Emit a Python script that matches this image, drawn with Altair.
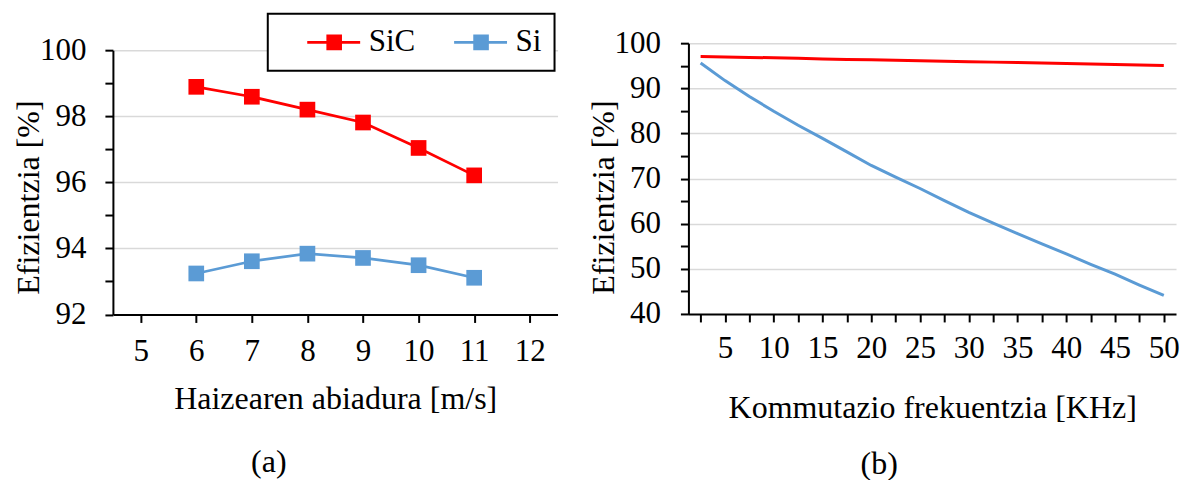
import altair as alt
import pandas as pd

FONT = "Liberation Serif"

# ---- data (a) ----
wind_speed = [6, 7, 8, 9, 10, 11]
eff_sic_a = [98.89, 98.59, 98.20, 97.81, 97.04, 96.21]
eff_si_a = [93.24, 93.61, 93.84, 93.71, 93.49, 93.11]

# ---- data (b) ----
freq_khz = [2.5, 5, 7.5, 10, 12.5, 15, 17.5, 20, 22.5, 25,
            27.5, 30, 32.5, 35, 37.5, 40, 42.5, 45, 47.5, 50]
eff_sic_b = [97.05, 96.95, 96.85, 96.75, 96.65, 96.5, 96.4, 96.3, 96.2, 96.1,
             96.0, 95.9, 95.8, 95.7, 95.6, 95.5, 95.4, 95.3, 95.15, 95.05]
eff_si_b = [95.6, 91.7, 88.2, 84.9, 81.8, 78.9, 75.9, 72.9, 70.3, 67.8,
            65.1, 62.5, 60.1, 57.8, 55.5, 53.3, 51.0, 48.8, 46.4, 44.1]

series_names = ["SiC", "Si"]
series_colors = ["#FF0000", "#5B9BD5"]

x_ticks_a = [5, 6, 7, 8, 9, 10, 11, 12]
y_ticks_a = [92, 93, 94, 95, 96, 97, 98, 99, 100]
x_ticks_b = [2.5, 5, 7.5, 10, 12.5, 15, 17.5, 20, 22.5, 25,
             27.5, 30, 32.5, 35, 37.5, 40, 42.5, 45, 47.5, 50]
y_ticks_b = [40, 45, 50, 55, 60, 65, 70, 75, 80, 85, 90, 95, 100]

df_a = pd.DataFrame({
    "x": wind_speed * 2,
    "eff": eff_sic_a + eff_si_a,
    "series": ["SiC"] * len(wind_speed) + ["Si"] * len(wind_speed),
})
df_b = pd.DataFrame({
    "x": freq_khz * 2,
    "eff": eff_sic_b + eff_si_b,
    "series": ["SiC"] * len(freq_khz) + ["Si"] * len(freq_khz),
})

color_scale = alt.Scale(domain=series_names, range=series_colors)

even_grid = {"condition": {"test": "datum.value % 2 == 0 && datum.value > 92", "value": "#D9D9D9"},
             "value": "transparent"}
ten_grid = {"condition": {"test": "datum.value % 10 == 0 && datum.value > 40", "value": "#D9D9D9"},
            "value": "transparent"}

# ---- panel (a) ----
xa = alt.X("x:Q", scale=alt.Scale(domain=[4.5, 12.5], nice=False, zero=False),
           axis=alt.Axis(values=x_ticks_a, format="d", grid=False, labelPadding=14,
                         title="Haizearen abiadura [m/s]", titleY=94,
                         titleBaseline="alphabetic"))
ya = alt.Y("eff:Q", scale=alt.Scale(domain=[92, 100], range=[271.5, 7], nice=False, zero=False),
           axis=alt.Axis(values=y_ticks_a, labelExpr="datum.value % 2 == 0 ? datum.label : ''",
                         gridColor=even_grid, labelPadding=19,
                         title="Efizientzia [%]", titleX=-67.5, titleY=154))

# line through a filled square; drawn to the right of the nominal symbol box
sym_path = "M0.846,-0.1H4.92V0.1H0.846Z M2.32,-0.604H3.52V0.604H2.32Z"

legend_a = alt.Legend(title=None, orient="none", legendX=155, legendY=-29.5,
                      direction="horizontal", symbolType=sym_path,
                      symbolSize=676, symbolStrokeWidth=0,
                      labelFont=FONT, labelFontSize=31, labelColor="black",
                      labelOffset=57, padding=13, strokeColor="black",
                      fillColor="white", columnPadding=12, labelLimit=400,
                      labelExpr="datum.label == 'Si' ? 'Si\u00a0\u00a0' : datum.label")

base_a = alt.Chart(df_a)
lines_a = base_a.mark_line(strokeWidth=2.75).encode(
    x=xa, y=ya, color=alt.Color("series:N", scale=color_scale, legend=legend_a))
points_a = base_a.mark_point(shape="square", filled=True, size=246, opacity=1).encode(
    x=xa, y=ya, color=alt.Color("series:N", scale=color_scale, legend=legend_a))

left = alt.layer(lines_a, points_a).properties(
    width=445, height=271.5,
    title=alt.TitleParams("(a)", orient="bottom", anchor="middle", dx=-66.5, offset=58,
                          baseline="alphabetic", font=FONT, fontSize=32,
                          fontWeight="normal", color="black"))

# ---- panel (b) ----
xb = alt.X("x:Q", scale=alt.Scale(domain=[1.25, 51.25], nice=False, zero=False),
           axis=alt.Axis(values=x_ticks_b, labelExpr="datum.value % 5 == 0 ? datum.label : ''",
                         grid=False, labelPadding=12,
                         title="Kommutazio frekuentzia [KHz]", titleY=104,
                         titleBaseline="alphabetic"))
yb = alt.Y("eff:Q", scale=alt.Scale(domain=[40, 100], nice=False, zero=False),
           axis=alt.Axis(values=y_ticks_b, labelExpr="datum.value % 10 == 0 ? datum.label : ''",
                         gridColor=ten_grid, labelPadding=20,
                         title="Efizientzia [%]", titleX=-67.5, titleY=154))

right = alt.Chart(df_b).mark_line(strokeWidth=3).encode(
    x=xb, y=yb, stroke=alt.Stroke("series:N", scale=color_scale, legend=None)
).properties(
    width=488, height=271,
    title=alt.TitleParams("(b)", orient="bottom", anchor="middle", dx=-53, offset=50,
                          baseline="alphabetic", font=FONT, fontSize=32,
                          fontWeight="normal", color="black"))

chart = alt.hconcat(left, right, spacing=131, bounds="flush").properties(
    padding={"left": 4, "top": 4, "right": 0, "bottom": 0}
).configure_view(stroke=None).configure_axis(
    domainColor="black", domainWidth=2, tickColor="black", tickWidth=2, tickSize=8,
    labelFont=FONT, labelFontSize=31, labelColor="black", labelFlush=False, labelOverlap=False,
    titleFont=FONT, titleFontSize=32, titleColor="black", titleFontWeight="normal",
    gridWidth=1.5
).configure_legend(strokeWidth=2)

chart.save("out.html", embed_options={"renderer": "svg", "actions": False})
